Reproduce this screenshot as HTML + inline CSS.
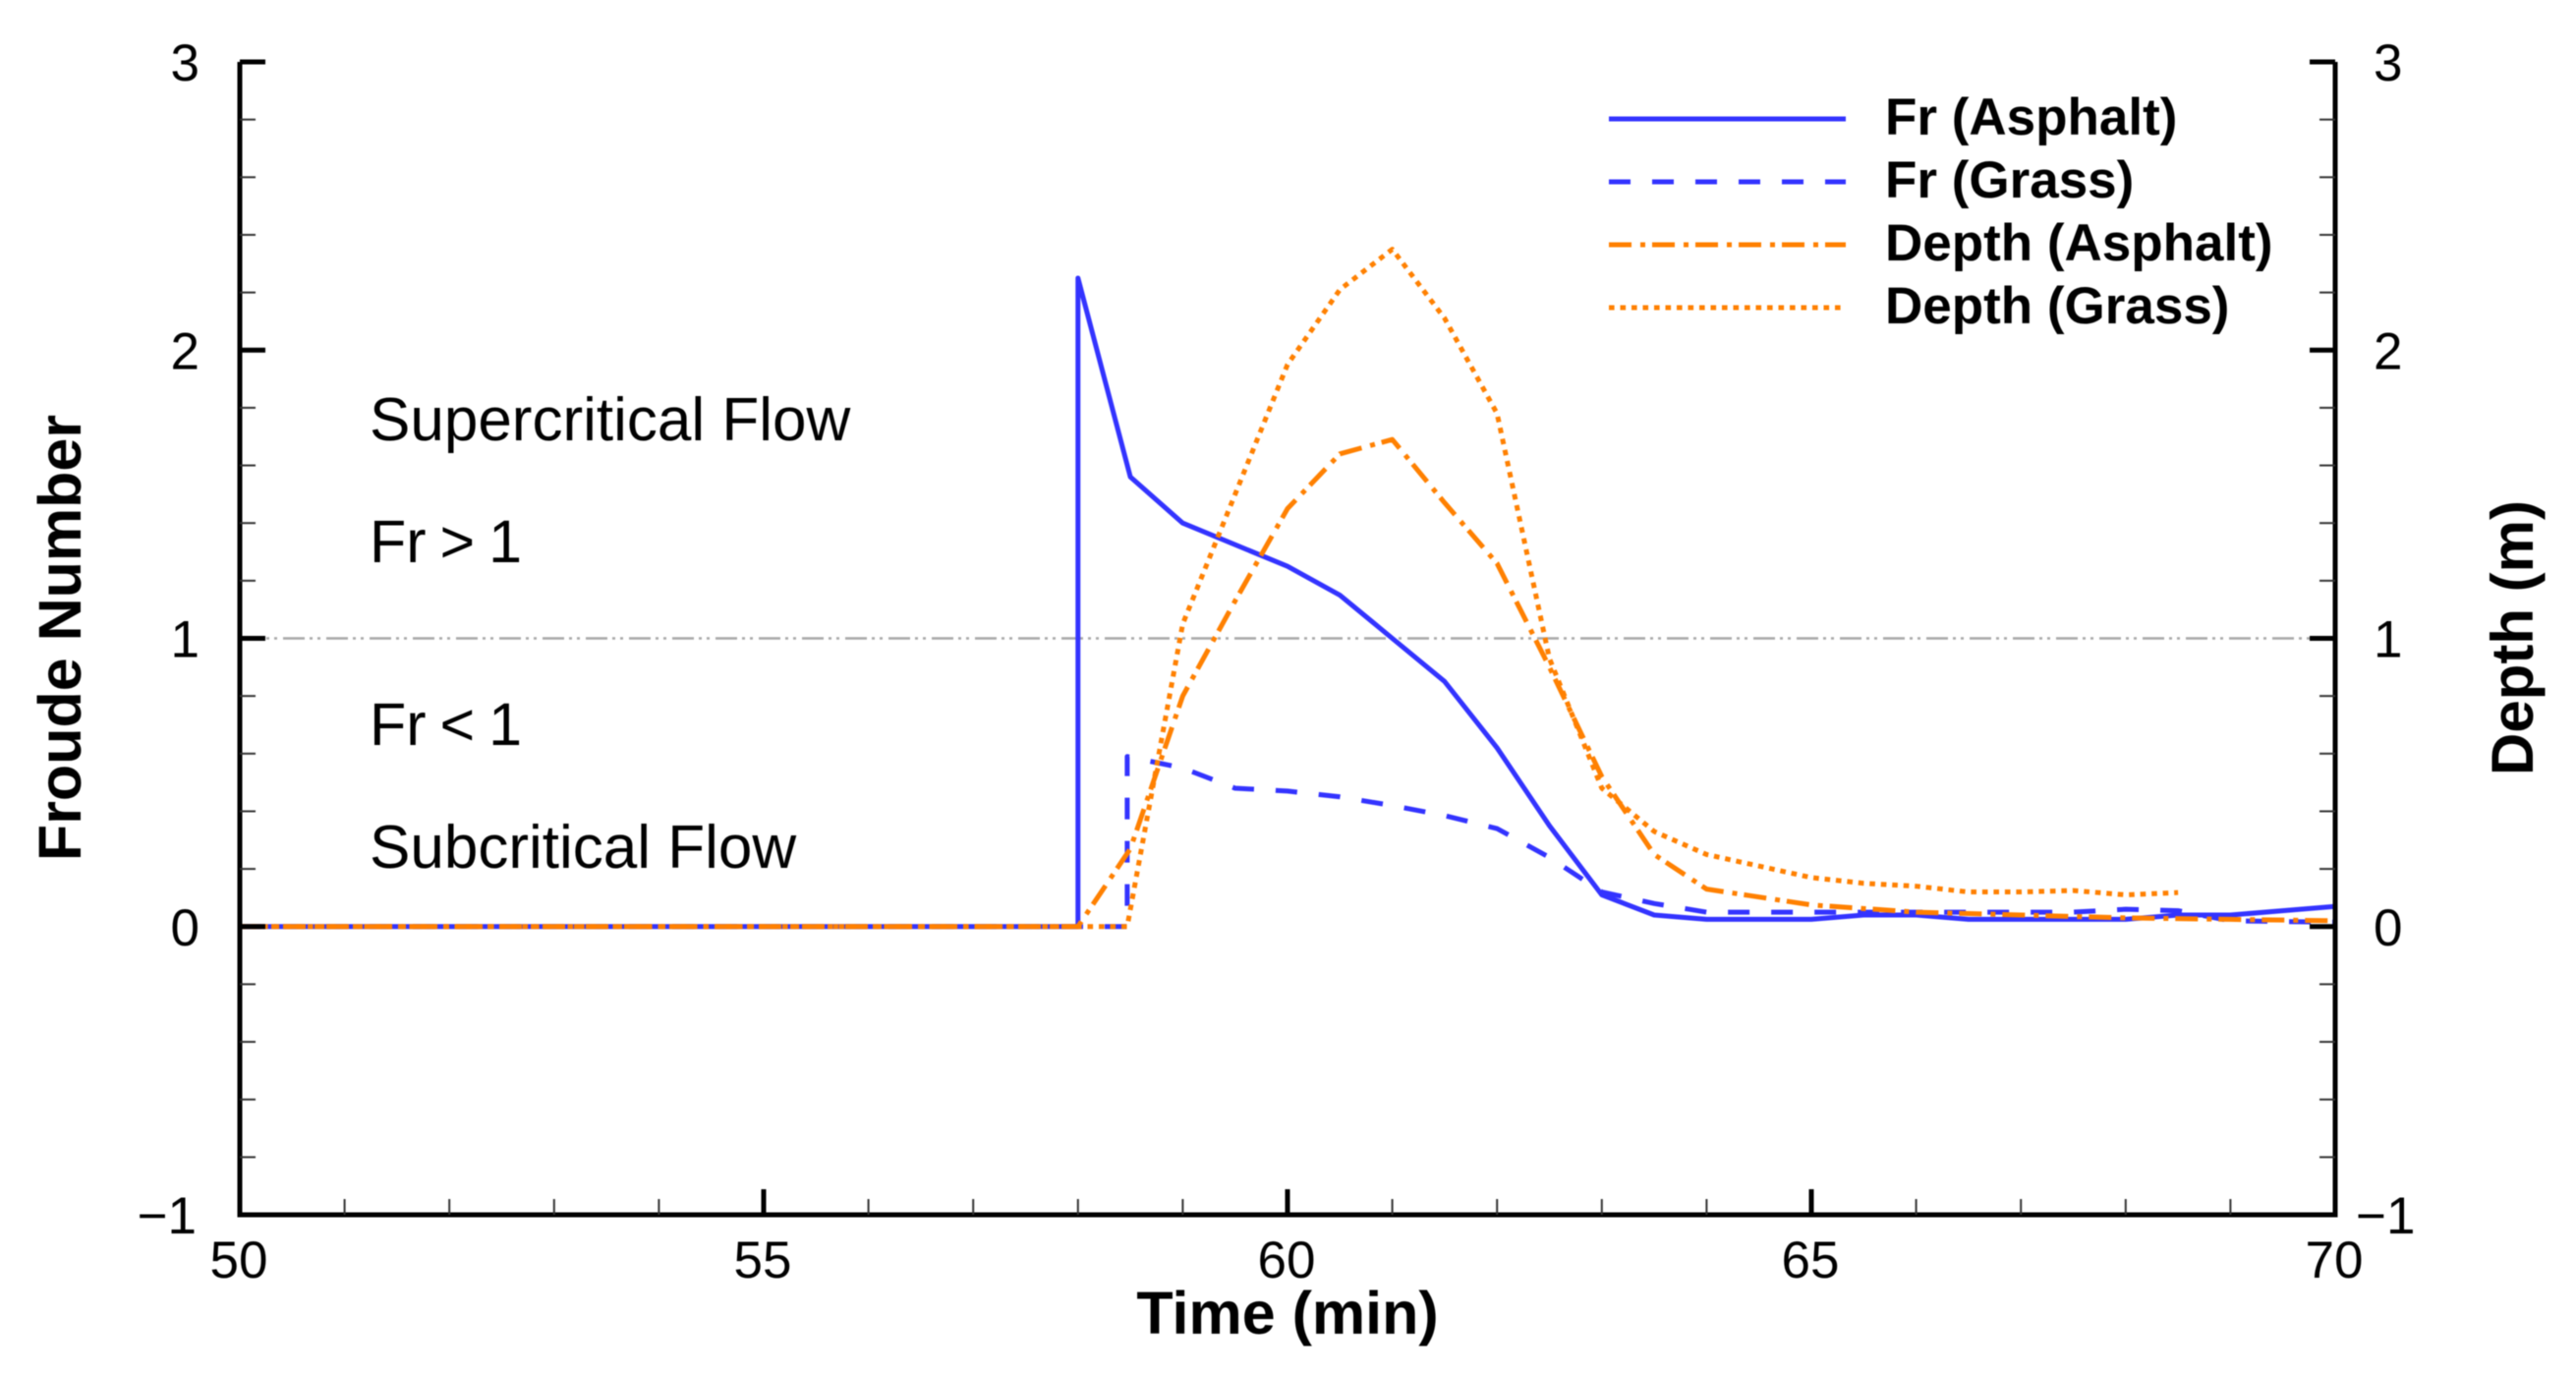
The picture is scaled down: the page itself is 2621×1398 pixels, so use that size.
<!DOCTYPE html>
<html lang="en">
<head>
<meta charset="utf-8">
<title>Froude Number and Depth over Time</title>
<style>
  html, body { margin: 0; padding: 0; background: #fff; }
  body { width: 2621px; height: 1398px; overflow: hidden; }
  svg { display: block; filter: blur(0.6px); }
  text { font-family: "Liberation Sans", sans-serif; fill: #000; }
</style>
</head>
<body>
<svg id="chart" xmlns="http://www.w3.org/2000/svg" width="2621" height="1398" viewBox="0 0 2621 1398">
  <g id="ref-layer"></g>
  <g id="series-layer"></g>
  <g id="axis-layer"></g>
  <g id="tick-label-layer"></g>

  <text x="1310" y="1357" text-anchor="middle" font-size="61" font-weight="bold">Time (min)</text>
  <text transform="translate(82,649) rotate(-90)" text-anchor="middle" font-size="61" font-weight="bold">Froude Number</text>
  <text transform="translate(2577,649) rotate(-90)" text-anchor="middle" font-size="60" font-weight="bold">Depth (m)</text>

  <text x="376" y="448" font-size="62">Supercritical Flow</text>
  <text x="376" y="572" font-size="61" word-spacing="-3">Fr &gt; 1</text>
  <text x="376" y="758" font-size="61" word-spacing="-3">Fr &lt; 1</text>
  <text x="376" y="883" font-size="62">Subcritical Flow</text>

  <g id="legend">
    <g>
      <line x1="1637" x2="1878" y1="121" y2="121" stroke="#3333ff" stroke-width="5"/>
      <text x="1918" y="137" font-size="53" font-weight="bold">Fr (Asphalt)</text>
    </g>
    <g>
      <line x1="1637" x2="1878" y1="185" y2="185" stroke="#3333ff" stroke-width="5" stroke-dasharray="22 22"/>
      <text x="1918" y="201" font-size="53" font-weight="bold">Fr (Grass)</text>
    </g>
    <g>
      <line x1="1637" x2="1878" y1="249" y2="249" stroke="#ff8000" stroke-width="5" stroke-dasharray="23 9 5 7"/>
      <text x="1918" y="265" font-size="53" font-weight="bold">Depth (Asphalt)</text>
    </g>
    <g>
      <line x1="1637" x2="1878" y1="313" y2="313" stroke="#ff8000" stroke-width="5" stroke-dasharray="5.6 5.9"/>
      <text x="1918" y="329" font-size="53" font-weight="bold">Depth (Grass)</text>
    </g>
  </g>
</svg>
<script>
// Chart data
const xTicks = [50, 55, 60, 65, 70];
const xMinorTicks = [51, 52, 53, 54, 56, 57, 58, 59, 61, 62, 63, 64, 66, 67, 68, 69];
const yTicks = [-1, 0, 1, 2, 3];
const yMinorTicks = [-0.8, -0.6, -0.4, -0.2, 0.2, 0.4, 0.6, 0.8, 1.2, 1.4, 1.6, 1.8, 2.2, 2.4, 2.6, 2.8];
const referenceFroude = 1;

const frAsphaltTime = [50, 58, 58, 58.5, 59, 60, 60.5, 61, 61.5, 62, 62.5, 63, 63.5, 64, 65, 65.5, 66, 66.5, 67, 68, 68.5, 69, 69.5, 70];
const frAsphaltValue = [0, 0, 2.25, 1.56, 1.40, 1.25, 1.15, 1.00, 0.85, 0.62, 0.35, 0.11, 0.04, 0.025, 0.025, 0.04, 0.04, 0.025, 0.025, 0.025, 0.04, 0.04, 0.055, 0.07];

const frGrassTime = [50, 58.47, 58.47, 59, 59.5, 60, 60.5, 61, 61.5, 62, 62.5, 63, 63.5, 64, 65, 66, 67, 67.5, 68, 68.5, 69, 70];
const frGrassValue = [0, 0, 0.59, 0.55, 0.48, 0.47, 0.45, 0.42, 0.385, 0.34, 0.24, 0.12, 0.08, 0.05, 0.05, 0.05, 0.05, 0.05, 0.06, 0.055, 0.02, 0.015];

const depthAsphaltTime = [50, 58, 58.5, 59, 59.5, 60, 60.5, 61, 61.5, 62, 62.5, 63, 63.5, 64, 65, 66, 67, 68, 69, 70];
const depthAsphaltValue = [0, 0, 0.27, 0.80, 1.13, 1.45, 1.64, 1.69, 1.47, 1.26, 0.90, 0.52, 0.25, 0.13, 0.075, 0.05, 0.04, 0.03, 0.025, 0.02];

const depthGrassTime = [50, 58.47, 59, 59.5, 60, 60.5, 61, 61.5, 62, 62.5, 63, 63.5, 64, 64.5, 65, 65.5, 66, 66.5, 67, 67.5, 68, 68.5];
const depthGrassValue = [0, 0, 1.05, 1.50, 1.95, 2.21, 2.35, 2.11, 1.78, 0.93, 0.48, 0.33, 0.25, 0.21, 0.17, 0.15, 0.14, 0.12, 0.12, 0.125, 0.11, 0.118];

// Axis functions
const plotLeft = 244;
const plotRight = 2376;
const plotTop = 63;
const plotBottom = 1236;
const xMin = 50, xMax = 70, yMin = -1, yMax = 3;
function xScale(t) { return plotLeft + (t - xMin) / (xMax - xMin) * (plotRight - plotLeft); }
function yScale(v) { return plotBottom - (v - yMin) / (yMax - yMin) * (plotBottom - plotTop); }

const NS = 'http://www.w3.org/2000/svg';
function svgEl(tag, parent, attrs) {
  const el = document.createElementNS(NS, tag);
  for (const k in attrs) el.setAttribute(k, attrs[k]);
  parent.appendChild(el);
  return el;
}

const seriesLayer = document.getElementById('series-layer');
const axisLayer = document.getElementById('axis-layer');
const labelLayer = document.getElementById('tick-label-layer');
const refLayer = document.getElementById('ref-layer');

function drawSeries(times, values, stroke, dash, name) {
  const pts = times.map((t, i) => xScale(t).toFixed(2) + ',' + yScale(values[i]).toFixed(2)).join(' ');
  const line = svgEl('polyline', seriesLayer, { points: pts, fill: 'none', stroke: stroke, 'stroke-width': 5, 'stroke-linejoin': 'round' });
  if (dash) line.setAttribute('stroke-dasharray', dash);
  
  
}

// Reference line at Fr = 1
const refLine = svgEl('line', refLayer, { x1: plotLeft, x2: plotRight, y1: yScale(referenceFroude), y2: yScale(referenceFroude), stroke: '#a8a8a8', 'stroke-width': 2.5, 'stroke-dasharray': '22 5 3 5 3 6' });



drawSeries(frAsphaltTime, frAsphaltValue, '#3333ff', null, 'series-fr-asphalt');
drawSeries(frGrassTime, frGrassValue, '#3333ff', '22 22', 'series-fr-grass');
drawSeries(depthAsphaltTime, depthAsphaltValue, '#ff8000', '23 9 5 7', 'series-depth-asphalt');
drawSeries(depthGrassTime, depthGrassValue, '#ff8000', '5.6 5.9', 'series-depth-grass');

// Axis lines
const axisPath = svgEl('path', axisLayer, { d: 'M' + plotLeft + ' ' + plotTop + ' V' + plotBottom + ' H' + plotRight + ' V' + plotTop, fill: 'none', stroke: '#000', 'stroke-width': 5, 'stroke-linejoin': 'miter' });



function tick(x1, y1, x2, y2, w, colour, name) {
  const t = svgEl('line', axisLayer, { x1: x1, y1: y1, x2: x2, y2: y2, stroke: colour, 'stroke-width': w });
  
  
}

xTicks.forEach(function (v) {
  if (v !== xMin && v !== xMax) tick(xScale(v), plotBottom, xScale(v), plotBottom - 26, 5, '#000', 'x-major-tick');
});
xMinorTicks.forEach(function (v) {
  tick(xScale(v), plotBottom, xScale(v), plotBottom - 16, 2, '#333', 'x-minor-tick');
});
yTicks.forEach(function (v) {
  if (v !== yMin) {
    tick(plotLeft, yScale(v), plotLeft + 26, yScale(v), 5, '#000', 'left-major-tick');
    tick(plotRight, yScale(v), plotRight - 26, yScale(v), 5, '#000', 'right-major-tick');
  }
});
yMinorTicks.forEach(function (v) {
  tick(plotLeft, yScale(v), plotLeft + 16, yScale(v), 2, '#333', 'left-minor-tick');
  tick(plotRight, yScale(v), plotRight - 16, yScale(v), 2, '#333', 'right-minor-tick');
});

// Tick labels
function fmt(v) { return v < 0 ? '\u2212' + Math.abs(v) : String(v); }

xTicks.forEach(function (v) {
  const t = svgEl('text', labelLayer, { x: xScale(v) - 1, y: 1300, 'text-anchor': 'middle', 'font-size': 53 });
  t.textContent = String(v);
  
  
});
yTicks.forEach(function (v) {
  const l = svgEl('text', labelLayer, { x: v < 0 ? 200 : 203, y: yScale(v) + 19, 'text-anchor': 'end', 'font-size': 53 });
  l.textContent = fmt(v);
  
  
  const r = svgEl('text', labelLayer, { x: v < 0 ? 2397 : 2415, y: yScale(v) + 19, 'text-anchor': 'start', 'font-size': 53 });
  r.textContent = fmt(v);
  
  
});
</script>
</body>
</html>
